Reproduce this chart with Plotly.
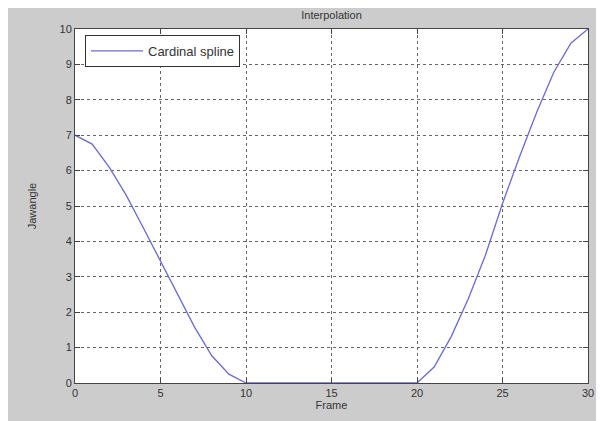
import plotly.graph_objects as go

frames = list(range(31))
jawangle = [7.0, 6.75, 6.1, 5.3, 4.38, 3.43, 2.49, 1.57, 0.77, 0.25,
            0.0, 0.0, 0.0, 0.0, 0.0, 0.0, 0.0, 0.0, 0.0, 0.0,
            0.0, 0.45, 1.31, 2.38, 3.61, 5.07, 6.4, 7.65, 8.78, 9.6, 10.0]
x_ticks = [0, 5, 10, 15, 20, 25, 30]
y_ticks = list(range(0, 11))

W, H = 596, 413
L, R, T, B = 67, 16, 21, 38
pw, ph = W - L - R, H - T - B

fig = go.Figure()
fig.add_trace(go.Scatter(x=frames, y=jawangle, mode="lines", name="Cardinal spline",
                         line=dict(color="#6a6ad2", width=1.3)))

font = dict(family="Liberation Sans, Arial, sans-serif", size=11, color="#333333")
grid = dict(showgrid=True, gridcolor="#666666", gridwidth=1, griddash="3px,3px",
            showline=True, linecolor="#444444", linewidth=1, mirror="ticks",
            ticks="inside", ticklen=5, tickcolor="#444444", zeroline=False,
            tickfont=font)

fig.update_layout(
    width=W, height=H,
    margin=dict(l=L, r=R, t=T, b=B, autoexpand=False),
    paper_bgcolor="#cccccc", plot_bgcolor="white",
    title=dict(text="Interpolation", x=(L + pw / 2) / W, xanchor="center",
               y=1 - 7 / H, yanchor="middle", font=font),
    xaxis=dict(range=[0, 30], tickvals=x_ticks, **grid,
               title=dict(text="Frame", font=font, standoff=2)),
    yaxis=dict(range=[0, 10], tickvals=y_ticks, **grid,
               title=dict(text="Jawangle", font=font, standoff=20)),
    showlegend=True,
    legend=dict(x=10 / pw, y=1 - 6 / ph, xanchor="left", yanchor="top",
                bgcolor="white", bordercolor="#333333", borderwidth=1,
                itemwidth=52, tracegroupgap=0,
                font=dict(family="Liberation Sans, Arial, sans-serif", size=13, color="#333333")),
)

fig.write_html("out.html")
